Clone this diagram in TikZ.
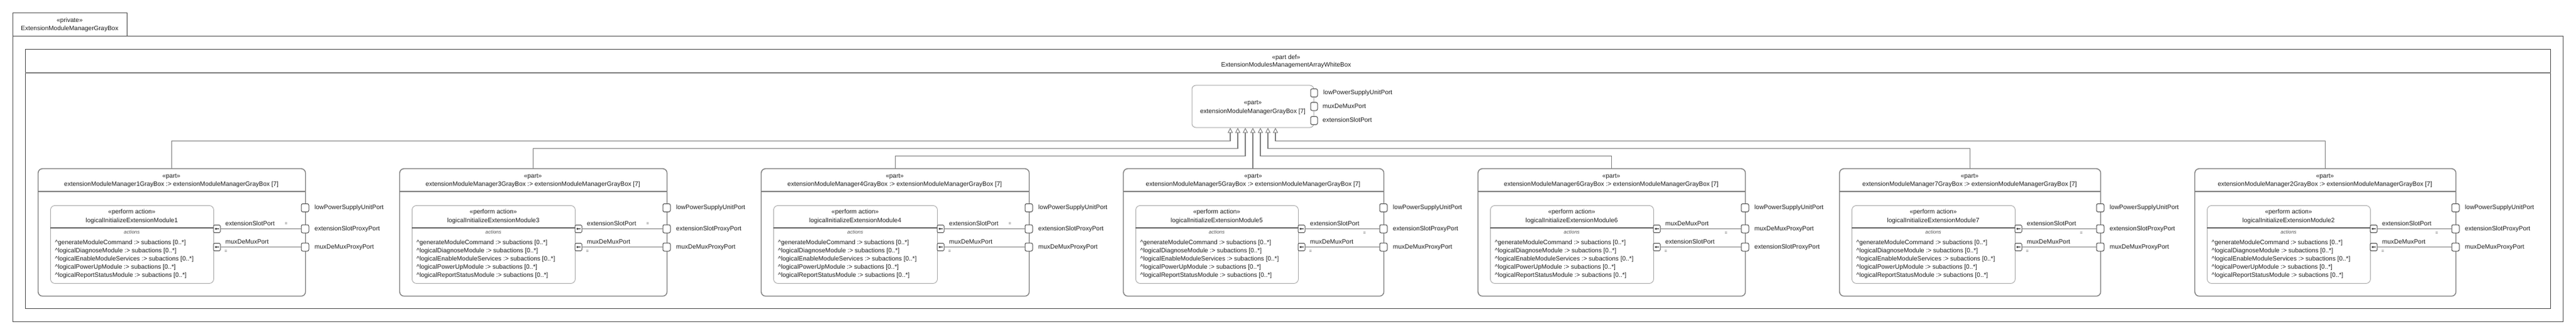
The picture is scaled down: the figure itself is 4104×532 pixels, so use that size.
\documentclass[tikz,border=0pt]{standalone}
\usepackage{fontspec}
\setmainfont{Liberation Sans}
\usetikzlibrary{arrows.meta}
\definecolor{txtc}{HTML}{1E1E1E}
\definecolor{framec}{HTML}{4A4A4A}
\definecolor{linec}{HTML}{808080}
\definecolor{actc}{HTML}{A8A8A8}
\definecolor{portc}{HTML}{505050}
\tikzset{
 txt/.style={inner sep=0pt, text=txtc, font=\fontsize{10}{12}\selectfont, text height=7.2pt, text depth=2pt},
 ital/.style={inner sep=0pt, text=txtc!75, font=\fontsize{8}{10}\selectfont\itshape, text height=5.8pt, text depth=1.6pt},
 eqs/.style={inner sep=0pt, text=txtc!85, font=\fontsize{7}{8}\selectfont},
 framebox/.style={draw=framec, line width=1pt, inner sep=0pt, fill=white},
 hdrln/.style={draw=linec, line width=1.2pt},
 partbox/.style={draw=linec, line width=1.4pt, rounded corners=7pt, inner sep=0pt},
 partln/.style={draw=linec, line width=1.2pt},
 actbox/.style={draw=actc, line width=0.9pt, rounded corners=7pt, inner sep=0pt},
 actln/.style={draw=linec!80!black, line width=2pt},
 pport/.style={draw=portc, line width=1pt, fill=white, rounded corners=2.5pt, minimum width=12pt, minimum height=13pt, inner sep=0pt},
 aport/.style={draw=portc, line width=1pt, fill=white, rounded corners=1.5pt, minimum width=11pt, minimum height=12pt, inner sep=0pt},
 portarrow/.style={draw=txtc, line width=0.8pt, -{Stealth[length=2.6pt,width=3.6pt]}},
 conn/.style={draw=linec, line width=1.4pt},
 gen/.style={draw=linec, line width=1.4pt, -{Triangle[open, length=8pt, width=8pt, fill=white, line width=1pt]}},
}
\newcommand\mkpart[7]{%
 \pgfmathsetmacro\qPR{#2+#3}%
 \pgfmathsetmacro\qPC{#2+#3/2}%
 \pgfmathsetmacro\qAL{#2+20}%
 \pgfmathsetmacro\qAR{#2+#3-#5}%
 \pgfmathsetmacro\qAC{(\qAL+\qAR)/2}%
 \pgfmathsetmacro\qAW{\qAR-\qAL}%
 \ifnum#6=0 \def\qYE{364.5}\def\qYM{393.5}\def\qNa{extensionSlotPort}\def\qNb{muxDeMuxPort}%
 \else \def\qYE{393.5}\def\qYM{364.5}\def\qNa{muxDeMuxPort}\def\qNb{extensionSlotPort}\fi
 \ifnum#7=0 \def\qEq{357}\else \def\qEq{372}\fi
 \node[partbox, minimum width=#3pt, minimum height=203pt, anchor=north west] (P#1) at (#2,268) {};
 \draw[partln] (P#1.west |- 0,305) -- (P#1.east |- 0,305);
 \node[txt] (P#1s) at (\qPC,280.7) {«part»};
 \node[txt] (P#1n) at (\qPC,294) {extensionModuleManager#4GrayBox :> extensionModuleManagerGrayBox [7]};
 \node[actbox, minimum width=\qAW pt, minimum height=124pt, anchor=north west] (A#1) at (\qAL,327) {};
 \draw[actln] (A#1.west |- 0,362.7) -- (A#1.east |- 0,362.7);
 \node[txt] (A#1s) at (\qAC,338.3) {«perform action»};
 \node[txt] (A#1n) at (\qAC,351.7) {logicalInitializeExtensionModule#4};
 \node[ital] (A#1h) at (\qAC,370.3) {actions};
 \foreach \qT [count=\qK from 0] in {generateModuleCommand,logicalDiagnoseModule,logicalEnableModuleServices,logicalPowerUpModule,logicalReportStatusModule}{
   \node[txt, anchor=west] (A#1t\qK) at (\qAL+7.5,386.7+12.95*\qK) {\textasciicircum\qT\ :> subactions [0..*]};
 }
 \node[pport] (P#1l) at (\qPR,331) {};
 \node[pport] (P#1x) at (\qPR,\qYE) {};
 \node[pport] (P#1m) at (\qPR,\qYM) {};
 \node[txt, anchor=west] (Q#1l) at (\qPR+15,331) {lowPowerSupplyUnitPort};
 \node[txt, anchor=west] (Q#1x) at (\qPR+15,\qYE) {extensionSlotProxyPort};
 \node[txt, anchor=west] (Q#1m) at (\qPR+15,\qYM) {muxDeMuxProxyPort};
 \node[aport] (A#1x) at (\qAR+5.5,\qYE) {};
 \node[aport] (A#1m) at (\qAR+5.5,\qYM) {};
 \draw[portarrow] ([xshift=3.2pt]A#1x.center) -- ([xshift=-3.2pt]A#1x.center);
 \draw[portarrow] ([xshift=3.2pt]A#1m.center) -- ([xshift=-3.2pt]A#1m.center);
 \draw[conn] (A#1x.east) -- (P#1x.west);
 \draw[conn] (A#1m.east) -- (P#1m.west);
 \node[txt, anchor=west] (L#1a) at (\qAR+19,356.7) {\qNa};
 \node[eqs] (E#1a) at (\qPR-30,\qEq) {=};
 \node[txt, anchor=west] (L#1b) at (\qAR+19,385.7) {\qNb};
 \node[eqs] (E#1b) at (\qAR+20,400.5) {=};
}
\begin{document}
\begin{tikzpicture}[x=1pt,y=-1pt]
\useasboundingbox[fill=white] (0,0) rectangle (4104,532);
% package
\node[framebox, minimum width=182pt, minimum height=37pt, anchor=north west] (T) at (20,20) {};
\node[framebox, minimum width=4063pt, minimum height=455pt, anchor=north west] (F) at (20,57) {};
\node[txt] (Ts) at (111,33) {«private»};
\node[txt] (Tn) at (111,46) {ExtensionModuleManagerGrayBox};
% part def
\node[framebox, minimum width=4023pt, minimum height=413pt, anchor=north west] (W) at (40,78) {};
\draw[hdrln] (W.west |- 0,116) -- (W.east |- 0,116);
\node[txt] (Ws) at (2049,91.7) {«part def»};
\node[txt] (Wn) at (2049,104.3) {ExtensionModulesManagementArrayWhiteBox};
% central part
\node[draw=actc, line width=1pt, rounded corners=6pt, inner sep=0pt, minimum width=194pt, minimum height=67pt] (C) at (1996,169.5) {};
\node[txt] (Cs) at (1996,164) {«part»};
\node[txt] (Cn) at (1996,178) {extensionModuleManagerGrayBox [7]};
\node[pport, minimum width=11pt] (Cl) at (C.east |- 0,148) {};
\node[pport, minimum width=11pt] (Cm) at (C.east |- 0,169.5) {};
\node[pport, minimum width=11pt] (Ce) at (C.east |- 0,192) {};
\node[txt, anchor=west] (Cll) at (2108,148) {lowPowerSupplyUnitPort};
\node[txt, anchor=west] (Cml) at (2107,169.5) {muxDeMuxPort};
\node[txt, anchor=west] (Cel) at (2107,192) {extensionSlotPort};
% parts
\mkpart{a}{60}{426}{1}{146}{0}{0}
\mkpart{b}{636}{426}{3}{146}{0}{0}
\mkpart{c}{1212}{427}{4}{146}{0}{0}
\mkpart{d}{1789}{415}{5}{136}{0}{1}
\mkpart{e}{2354}{426}{6}{146}{1}{1}
\mkpart{f}{2930}{416}{7}{136}{0}{1}
\mkpart{g}{3496}{416}{2}{136}{0}{1}
% generalizations
\draw[gen] (Pa.north) |- ([xshift=-36pt,yshift=-21pt]C.south) -- ([xshift=-36pt]C.south);
\draw[gen] (Pb.north) |- ([xshift=-24pt,yshift=-33pt]C.south) -- ([xshift=-24pt]C.south);
\draw[gen] (Pc.north) |- ([xshift=-12pt,yshift=-45pt]C.south) -- ([xshift=-12pt]C.south);
\draw[gen] (C.south |- Pd.north) -- (C.south);
\draw[gen] (Pe.north) |- ([xshift=12pt,yshift=-45pt]C.south) -- ([xshift=12pt]C.south);
\draw[gen] (Pf.north) |- ([xshift=24pt,yshift=-33pt]C.south) -- ([xshift=24pt]C.south);
\draw[gen] (Pg.north) |- ([xshift=36pt,yshift=-21pt]C.south) -- ([xshift=36pt]C.south);
\end{tikzpicture}
\end{document}
